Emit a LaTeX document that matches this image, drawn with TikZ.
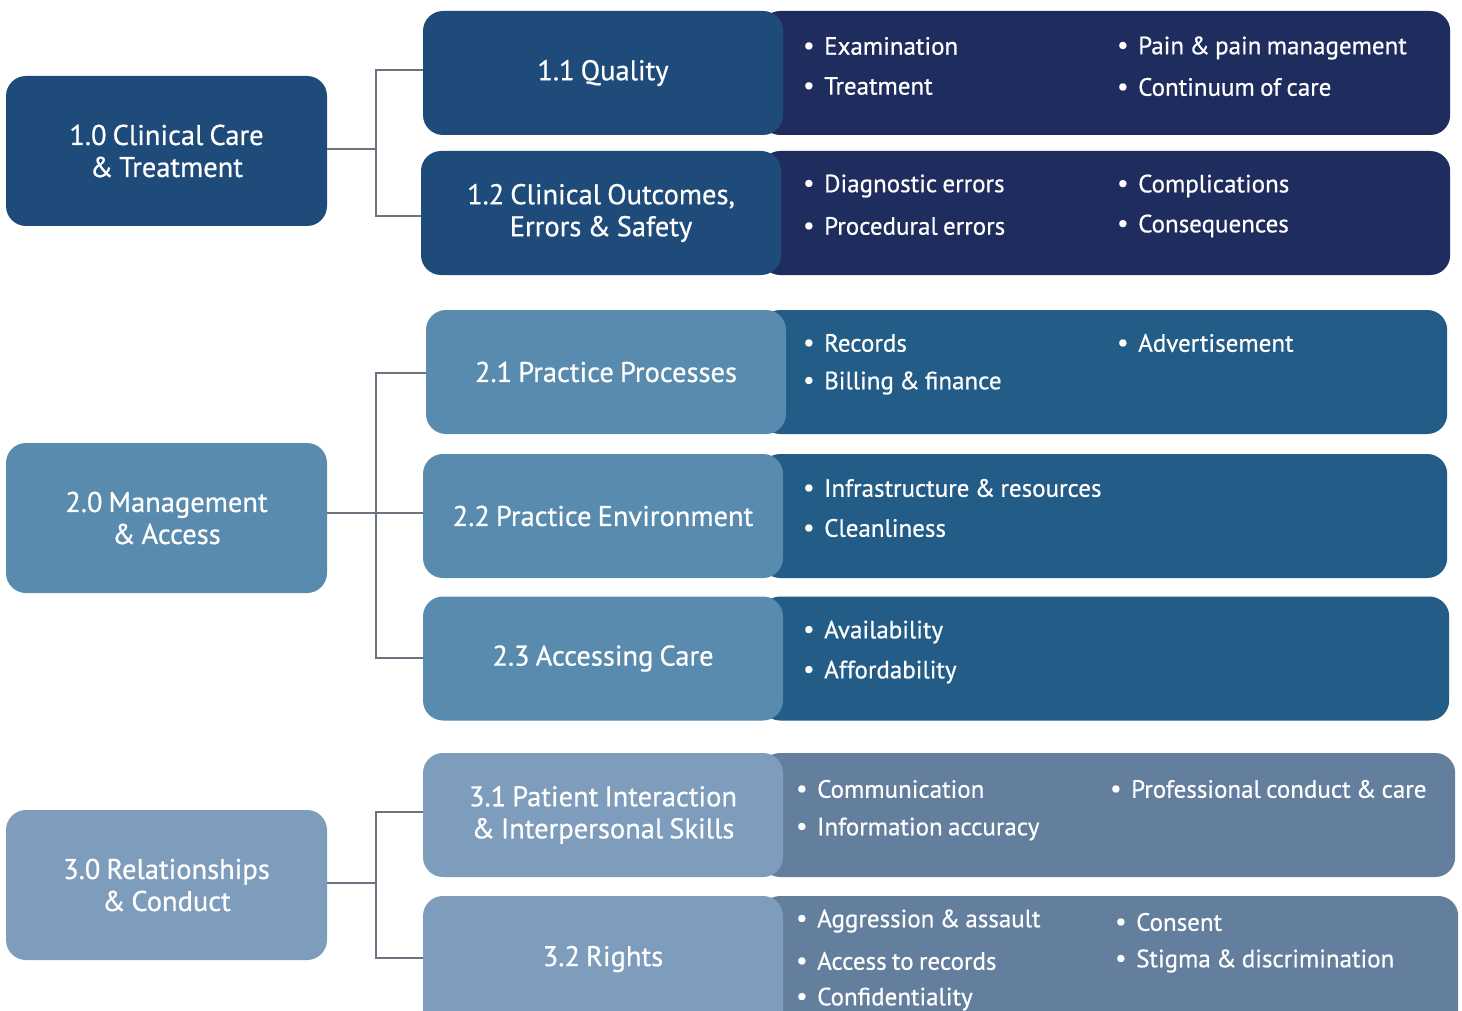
\documentclass[tikz,border=0pt]{standalone}
\usepackage{fontspec}
\setmainfont{PT Sans}[WordSpace=0.8, FakeBold=0.6]
\begin{document}
\begin{tikzpicture}[x=1pt,y=-1pt,
  box/.style={rounded corners=20pt, inner sep=0pt, text=white, align=center, font=\fontsize{28.5}{32}\selectfont},
  cat/.style={box, minimum width=321pt, minimum height=150pt},
  sub/.style={box, minimum width=360pt, minimum height=124pt},
  bar/.style={rounded corners=20pt, inner sep=0pt, minimum height=124pt},
  item/.style={anchor=west, inner sep=0pt, text=white, font=\fontsize{25}{30}\selectfont},
  conn/.style={draw=linegray, line width=2.6pt},
]
\definecolor{gA}{HTML}{1F4B7B}
\definecolor{bA}{HTML}{1F2D5E}
\definecolor{gB}{HTML}{588BAD}
\definecolor{bB}{HTML}{235C87}
\definecolor{gC}{HTML}{7E9CBB}
\definecolor{bC}{HTML}{647E9D}
\definecolor{linegray}{HTML}{6B7480}
\newcommand{\bul}[1]{\makebox[21pt][l]{\raisebox{1pt}{•}}#1}
\clip (0,0) rectangle (1462,1011);
\fill[white] (0,0) rectangle (1462,1011);

% bars (right parts)
\node[bar, fill=bA, minimum width=690pt, anchor=west] (r11) at (760,73) {};
\node[bar, fill=bA, minimum width=690pt, anchor=west] (r12) at (760,213) {};
\node[bar, fill=bB, minimum width=687pt, anchor=west] (r21) at (760,372) {};
\node[bar, fill=bB, minimum width=687pt, anchor=west] (r22) at (760,516) {};
\node[bar, fill=bB, minimum width=689pt, anchor=west] (r23) at (760,658.5) {};
\node[bar, fill=bC, minimum width=695pt, anchor=west] (r31) at (760,815) {};
\node[bar, fill=bC, minimum width=698pt, anchor=west, minimum height=150pt] (r32) at (760,971) {};

% sub boxes
\node[sub, fill=gA] (b11) at (603,73) {1.1 Quality};
\node[sub, fill=gA] (b12) at (601,213) {1.2 Clinical Outcomes,\\Errors \& Safety};
\node[sub, fill=gB] (b21) at (606,372) {2.1 Practice Processes};
\node[sub, fill=gB] (b22) at (603,516) {2.2 Practice Environment};
\node[sub, fill=gB] (b23) at (603,658.5) {2.3 Accessing Care};
\node[sub, fill=gC] (b31) at (603,815) {3.1 Patient Interaction\\\& Interpersonal Skills};
\node[sub, fill=gC, minimum height=150pt] (b32) at (603,971) {};
\node[text=white, font=\fontsize{28.5}{32}\selectfont] (t32) at (603,959) {3.2 Rights};

% category boxes
\node[cat, fill=gA] (c1) at (166.5,151) {1.0 Clinical Care\\\& Treatment};
\node[cat, fill=gB] (c2) at (166.5,518) {2.0 Management\\\& Access};
\node[cat, fill=gC] (c3) at (166.5,885) {3.0 Relationships\\\& Conduct};

% connectors
\coordinate (j1) at (376,149);
\coordinate (j2) at (376,513);
\coordinate (j3) at (376,883);
\draw[conn] (c1.east |- j1) -- (j1);
\draw[conn] (b11.west |- 0,70) -| (j1) |- (b12.west |- 0,216);
\draw[conn] (c2.east |- j2) -- (j2) -- (b22.west |- j2);
\draw[conn] (b21.west |- 0,373) -| (j2) |- (b23.west |- 0,658);
\draw[conn] (c3.east |- j3) -- (j3);
\draw[conn] (b31.west |- 0,812) -| (j3) |- (b32.west |- 0,958);

% items
\node[item] (i11a) at (803,46) {\bul{Examination}};
\node[item] (i11b) at (803,86) {\bul{Treatment}};
\node[item] (i11c) at (1117,48) {\bul{Pain \& pain management}};
\node[item] (i11d) at (1117,87) {\bul{Continuum of care}};
\node[item] (i12a) at (803,186) {\bul{Diagnostic errors}};
\node[item] (i12b) at (803,226) {\bul{Procedural errors}};
\node[item] (i12c) at (1117,186) {\bul{Complications}};
\node[item] (i12d) at (1117,226) {\bul{Consequences}};
\node[item] (i21a) at (803,343) {\bul{Records}};
\node[item] (i21b) at (803,383) {\bul{Billing \& finance}};
\node[item] (i21c) at (1117,343) {\bul{Advertisement}};
\node[item] (i22a) at (803,488) {\bul{Infrastructure \& resources}};
\node[item] (i22b) at (803,528) {\bul{Cleanliness}};
\node[item] (i23a) at (803,632) {\bul{Availability}};
\node[item] (i23b) at (803,672) {\bul{Affordability}};
\node[item] (i31a) at (796,789) {\bul{Communication}};
\node[item] (i31b) at (796,829) {\bul{Information accuracy}};
\node[item] (i31c) at (1110,789) {\bul{Professional conduct \& care}};
\node[item] (i32a) at (796,921) {\bul{Aggression \& assault}};
\node[item] (i32b) at (796,961) {\bul{Access to records}};
\node[item] (i32c) at (796,999) {\bul{Confidentiality}};
\node[item] (i32d) at (1115,922) {\bul{Consent}};
\node[item] (i32e) at (1115,961) {\bul{Stigma \& discrimination}};
\end{tikzpicture}
\end{document}
